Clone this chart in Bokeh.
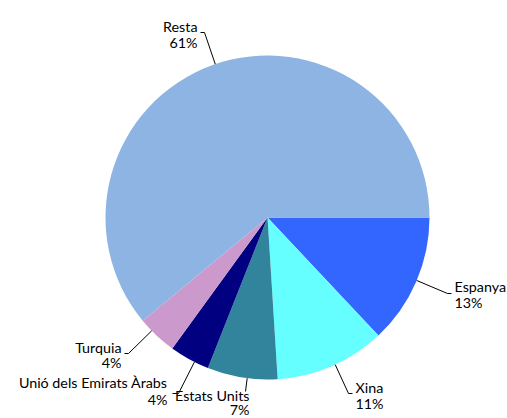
import math
from bokeh.plotting import figure
from bokeh.models import Range1d, ColumnDataSource
from bokeh.core.properties import value
from bokeh.embed import file_html
from bokeh.resources import INLINE

# ---- data ----
countries = ["Espanya", "Xina", "Estats Units", "Unió dels Emirats Àrabs", "Turquia", "Resta"]
shares = [13, 11, 7, 4, 4, 61]
colors = ["#3366FF", "#66FFFF", "#31849B", "#000080", "#CC99CC", "#8EB4E3"]

# ---- layout (screen pixels) ----
W, H = 507, 418
OFF = 0
FONT = "Lato"
FSIZE = "14.3px"

label_layout = {
    "Espanya": dict(elbow=(447, 293), tail=(451, 293), tx=454, ty=286, lh=16, align="left"),
    "Xina": dict(elbow=(348, 393), tail=(352, 393), tx=355, ty=387, lh=16, align="left"),
    "Estats Units": dict(elbow=(245, 391), tail=None, tx=249, ty=395, lh=14, align="right"),
    "Unió dels Emirats Àrabs": dict(elbow=(178, 393), tail=(172, 393), tx=167, ty=382, lh=17, align="right"),
    "Turquia": dict(elbow=(128, 353), tail=(124, 353), tx=121, ty=347, lh=15, align="right"),
    "Resta": dict(elbow=(204, 32), tail=(200, 32), tx=197, ty=26, lh=16, align="right"),
}


def X(x):
    return x - OFF


def Y(y):
    return H + OFF - y


p = figure(width=W, height=H, x_range=Range1d(0, W), y_range=Range1d(0, H),
           output_backend="svg", toolbar_location=None, min_border=0)
p.axis.visible = False
p.grid.visible = False
p.outline_line_color = None
p.background_fill_color = "white"

cx, cy, R = X(267), Y(217), 162
total = sum(shares)
starts, ends = [], []
acc = 0
for s in shares:
    starts.append(-2 * math.pi * (acc + s) / total)
    ends.append(-2 * math.pi * acc / total)
    acc += s
src = ColumnDataSource(dict(start=starts, end=ends, color=colors, name=countries, share=shares))
p.wedge(x=cx, y=cy, radius=R, start_angle="start", end_angle="end",
        fill_color="color", line_color=None, source=src)

for name, share in zip(countries, shares):
    lay = label_layout[name]
    ex, ey = X(lay["elbow"][0]), Y(lay["elbow"][1])
    dx, dy = ex - cx, ey - cy
    d = math.hypot(dx, dy)
    px, py = cx + R * dx / d, cy + R * dy / d
    xs, ys = [px, ex], [py, ey]
    if lay["tail"]:
        xs.append(X(lay["tail"][0]))
        ys.append(Y(lay["tail"][1]))
    p.line(xs, ys, line_color="black", line_width=1)
    for i, t in enumerate([name, f"{share}%"]):
        p.text(x=[X(lay["tx"])], y=[Y(lay["ty"] + i * lay["lh"])], text=[t],
               text_align=lay["align"], text_baseline="alphabetic",
               text_font=value(FONT), text_font_size=FSIZE, text_color="black")

open("out.html", "w").write(file_html(p, INLINE))
